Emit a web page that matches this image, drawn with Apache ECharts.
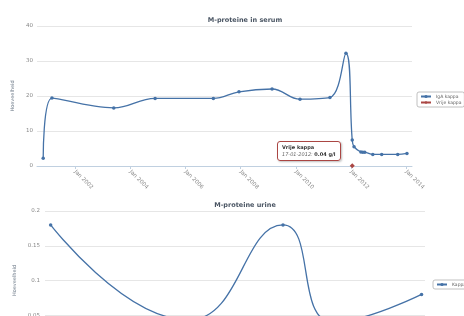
<!DOCTYPE html>
<html>
<head>
<meta charset="utf-8">
<script src="https://cdn.jsdelivr.net/npm/echarts@6/dist/echarts.min.js"></script>
<style>
  html, body { margin: 0; padding: 0; background: #fff; overflow: hidden; height: 316px; }
  #chart { width: 464px; height: 420px; }
</style>
</head>
<body>
<div id="chart"></div>
<script>
// M-proteine in serum
var serumDates = ['2000-11-05', '2001-03-01', '2003-05-28', '2004-11-25', '2007-01-05', '2007-12-10',
                  '2009-02-20', '2010-02-25', '2011-03-28', '2011-10-26', '2012-01-17', '2012-02-10',
                  '2012-05-10', '2012-06-05', '2012-07-01', '2012-10-15', '2013-02-10', '2013-09-10', '2014-01-10'];
var igaKappa = [2.2, 19.4, 16.6, 19.3, 19.3, 21.2, 22.0, 19.1, 19.6, 32.2, 7.4, 5.5, 4.0, 3.9, 3.9, 3.3, 3.3, 3.3, 3.6];
var vrijeDates = ['2012-01-17'];
var vrijeKappa = [0.04];
var serumTicks = ['2002-01-01', '2004-01-01', '2006-01-01', '2008-01-01', '2010-01-01', '2012-01-01', '2014-01-01'];

// M-proteine urine
var urineDates = ['2008-06-01', '2010-07-01', '2011-12-01', '2012-09-01', '2014-01-01'];
var urineKappa = [0.18, 0.043, 0.18, 0.04, 0.08];

var ts = function (s) { return new Date(s + 'T00:00:00').getTime(); };
var pairs = function (d, v) { return d.map(function (x, i) { return [ts(x), v[i]]; }); };

var blue = '#4572A7', red = '#AA4643';
var font = 'DejaVu Sans';
var labelStyle = { color: '#888', fontSize: 5.5, fontFamily: font };

var myChart = echarts.init(document.getElementById('chart'));

myChart.setOption({
    animation: false,
    title: [{
        text: 'M-proteine in serum', left: 240, top: 12, textAlign: 'center',
        textStyle: { color: '#4a5563', fontSize: 6.5, fontWeight: 'bold', fontFamily: font }
    }, {
        text: 'M-proteine urine', left: 240, top: 197, textAlign: 'center',
        textStyle: { color: '#4a5563', fontSize: 6.5, fontWeight: 'bold', fontFamily: font }
    }],
    legend: [{
        data: ['IgA kappa', 'Vrije kappa'], orient: 'vertical', left: 417, top: 92,
        padding: [2, 3], itemGap: 1, itemWidth: 10, itemHeight: 4,
        borderColor: '#b0b0b0', borderWidth: 0.8, borderRadius: 2,
        textStyle: { color: '#666', fontSize: 4.5, fontFamily: font }
    }, {
        data: ['Kappa'], left: 433, top: 280,
        padding: [2, 3], itemWidth: 10, itemHeight: 4,
        borderColor: '#b0b0b0', borderWidth: 0.8, borderRadius: 2,
        textStyle: { color: '#666', fontSize: 4.5, fontFamily: font }
    }],
    tooltip: {
        trigger: 'item', alwaysShowContent: true, transitionDuration: 0,
        position: [277, 141], padding: [2, 4],
        backgroundColor: 'rgba(255,255,255,0.9)', borderColor: red, borderWidth: 1,
        extraCssText: 'box-shadow:1px 1px 2px rgba(0,0,0,0.25);border-radius:3px;line-height:7px;',
        textStyle: { color: '#333', fontSize: 5, fontFamily: font },
        formatter: function (p) {
            var d = new Date(p.value[0]);
            var dd = ('0' + d.getDate()).slice(-2) + '-' + ('0' + (d.getMonth() + 1)).slice(-2) + '-' + d.getFullYear();
            return '<b>' + p.seriesName + '</b><br/><i style="color:#666">' + dd + ':</i> <b>' + p.value[1] + ' g/l</b>';
        }
    },
    grid: [
        { left: 37, right: 52, top: 26, height: 140 },
        { left: 45, right: 39, top: 211, height: 139 }
    ],
    xAxis: [{
        type: 'value', gridIndex: 0,
        min: ts('2000-08-15'), max: ts('2014-03-18'),
        axisLine: { lineStyle: { color: '#c0d0e0' } },
        axisTick: { show: true, length: 3, lineStyle: { color: '#c0d0e0' }, customValues: serumTicks.map(ts) },
        splitLine: { show: false },
        axisLabel: Object.assign({
            rotate: -45, margin: 5, customValues: serumTicks.map(ts),
            formatter: function (v) { return 'Jan ' + new Date(v).getFullYear(); }
        }, labelStyle)
    }, {
        type: 'value', gridIndex: 1,
        min: ts('2008-05-01'), max: ts('2014-01-20'),
        axisLine: { lineStyle: { color: '#c0d0e0' } },
        splitLine: { show: false },
        axisLabel: { show: false }
    }],
    yAxis: [{
        type: 'value', gridIndex: 0, min: 0, max: 40, interval: 10,
        name: 'Hoeveelheid', nameLocation: 'middle', nameGap: 16,
        nameTextStyle: { color: '#6d7a88', fontSize: 5, fontFamily: font },
        axisLine: { show: false }, axisTick: { show: false },
        splitLine: { lineStyle: { color: '#e0e0e0', width: 0.8 } },
        axisLabel: Object.assign({ margin: 4 }, labelStyle)
    }, {
        type: 'value', gridIndex: 1, min: 0, max: 0.2, interval: 0.05,
        name: 'Hoeveelheid', nameLocation: 'middle', nameGap: 24,
        nameTextStyle: { color: '#6d7a88', fontSize: 5, fontFamily: font },
        axisLine: { show: false }, axisTick: { show: false },
        splitLine: { lineStyle: { color: '#e0e0e0', width: 0.8 } },
        axisLabel: Object.assign({ margin: 5 }, labelStyle)
    }],
    series: [{
        name: 'IgA kappa', type: 'line', xAxisIndex: 0, yAxisIndex: 0,
        data: pairs(serumDates, igaKappa), smooth: 0.4,
        symbol: 'circle', symbolSize: 3.5, clip: false,
        itemStyle: { color: blue }, lineStyle: { color: blue, width: 1.3 }
    }, {
        name: 'Vrije kappa', type: 'line', xAxisIndex: 0, yAxisIndex: 0,
        data: pairs(vrijeDates, vrijeKappa),
        symbol: 'diamond', symbolSize: 5, clip: false,
        itemStyle: { color: red }, lineStyle: { color: red, width: 1.3 }
    }, {
        name: 'Kappa', type: 'line', xAxisIndex: 1, yAxisIndex: 1,
        data: pairs(urineDates, urineKappa), smooth: 0.5,
        symbol: 'circle', symbolSize: 3.5, clip: false,
        itemStyle: { color: blue }, lineStyle: { color: blue, width: 1.3 }
    }]
});

myChart.dispatchAction({ type: 'showTip', seriesIndex: 1, dataIndex: 0 });
</script>
</body>
</html>
